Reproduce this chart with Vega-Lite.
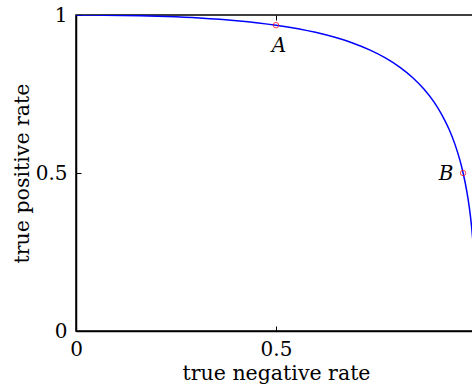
{
  "$schema": "https://vega.github.io/schema/vega-lite/v6.json",
  "width": 400,
  "height": 316,
  "autosize": {"type": "none"},
  "padding": {"left": 76, "top": 15, "right": 0, "bottom": 57},
  "config": {
    "view": {"stroke": "black", "strokeWidth": 1.5},
    "font": "DejaVu Serif",
    "axis": {
      "labelFont": "DejaVu Serif",
      "titleFont": "DejaVu Serif",
      "labelFontSize": 20,
      "titleFontSize": 20.5,
      "titleFontWeight": "normal",
      "labelColor": "black",
      "titleColor": "black",
      "domainColor": "black",
      "domainWidth": 1.5,
      "tickColor": "black",
      "tickWidth": 1,
      "grid": false
    }
  },
  "data": {"values": [
    {"tnr": 0.0, "tpr": 1.0},
    {"tnr": 0.00135, "tpr": 1.0},
    {"tnr": 0.00621, "tpr": 0.99999},
    {"tnr": 0.02275, "tpr": 0.99994},
    {"tnr": 0.0668, "tpr": 0.9996},
    {"tnr": 0.1587, "tpr": 0.99781},
    {"tnr": 0.2266, "tpr": 0.99534},
    {"tnr": 0.3085, "tpr": 0.99061},
    {"tnr": 0.4013, "tpr": 0.98214},
    {"tnr": 0.5, "tpr": 0.96784},
    {"tnr": 0.5987, "tpr": 0.9452},
    {"tnr": 0.6915, "tpr": 0.91149},
    {"tnr": 0.734, "tpr": 0.8897},
    {"tnr": 0.7734, "tpr": 0.86433},
    {"tnr": 0.8092, "tpr": 0.8352},
    {"tnr": 0.8413, "tpr": 0.80234},
    {"tnr": 0.8697, "tpr": 0.7658},
    {"tnr": 0.8944, "tpr": 0.72575},
    {"tnr": 0.9154, "tpr": 0.6826},
    {"tnr": 0.9332, "tpr": 0.63683},
    {"tnr": 0.9479, "tpr": 0.589},
    {"tnr": 0.9599, "tpr": 0.53983},
    {"tnr": 0.9678, "tpr": 0.5},
    {"tnr": 0.97725, "tpr": 0.44038},
    {"tnr": 0.9832, "tpr": 0.3917},
    {"tnr": 0.98778, "tpr": 0.34458},
    {"tnr": 0.9912, "tpr": 0.2998},
    {"tnr": 0.99379, "tpr": 0.25785},
    {"tnr": 0.99702, "tpr": 0.18406},
    {"tnr": 0.99865, "tpr": 0.12507},
    {"tnr": 0.99977, "tpr": 0.04947},
    {"tnr": 0.99997, "tpr": 0.01578},
    {"tnr": 1.0, "tpr": 0.0}
  ]},
  "layer": [
    {
      "mark": {"type": "line", "color": "#0000ff", "strokeWidth": 1.5, "clip": true, "interpolate": "monotone"},
      "encoding": {
        "x": {"field": "tnr", "type": "quantitative", "scale": {"domain": [0, 1], "nice": false},
          "axis": {"title": "true negative rate", "values": [0, 0.5], "tickSize": -5, "labelPadding": 13, "titlePadding": 4, "format": "~g", "labelFlush": false}},
        "y": {"field": "tpr", "type": "quantitative", "scale": {"domain": [0, 1], "nice": false},
          "axis": {"title": "true positive rate", "values": [0, 0.5, 1], "tickSize": -5, "labelPadding": 14, "titlePadding": 3, "format": "~g", "labelFlush": false}}
      }
    },
    {
      "data": {"values": [
        {"tnr": 0.5, "tpr": 0.96784, "label": "A"},
        {"tnr": 0.9678, "tpr": 0.5, "label": "B"}
      ]},
      "layer": [
        {
          "mark": {"type": "point", "shape": "circle", "filled": false, "color": "red", "size": 30, "strokeWidth": 1},
          "encoding": {
            "x": {"field": "tnr", "type": "quantitative", "scale": {"domain": [0, 1], "nice": false},
              "axis": {"orient": "top", "title": null, "labels": false, "values": [0.5], "tickSize": -5, "domain": false}},
            "y": {"field": "tpr", "type": "quantitative"}
          }
        },
        {
          "transform": [{"filter": "datum.label == 'A'"}],
          "mark": {"type": "text", "font": "DejaVu Serif", "fontStyle": "italic", "fontSize": 20, "dx": 3, "dy": 21, "color": "black"},
          "encoding": {
            "x": {"field": "tnr", "type": "quantitative"},
            "y": {"field": "tpr", "type": "quantitative"},
            "text": {"field": "label"}
          }
        },
        {
          "transform": [{"filter": "datum.label == 'B'"}],
          "mark": {"type": "text", "font": "DejaVu Serif", "fontStyle": "italic", "fontSize": 20, "dx": -17, "dy": 1, "color": "black"},
          "encoding": {
            "x": {"field": "tnr", "type": "quantitative"},
            "y": {"field": "tpr", "type": "quantitative"},
            "text": {"field": "label"}
          }
        }
      ],
      "resolve": {"axis": {"x": "shared"}}
    }
  ],
  "resolve": {"axis": {"x": "independent"}}
}
